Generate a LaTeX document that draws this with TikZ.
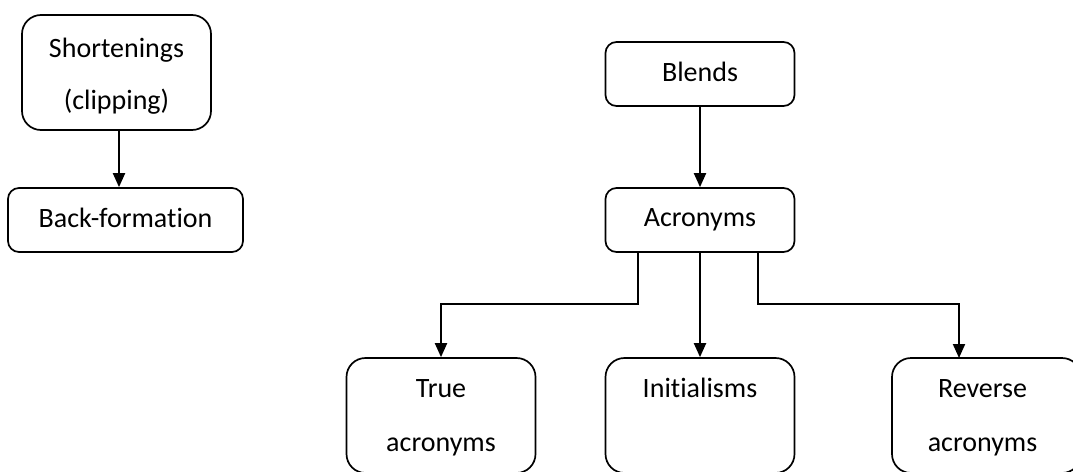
\documentclass[tikz,border=0pt]{standalone}
\usepackage{fontspec}
\setmainfont{Carlito}[Ligatures=NoCommon]
\usetikzlibrary{arrows.meta,calc}
\begin{document}
\begin{tikzpicture}[x=1pt,y=-1pt,
  tallbox/.style={draw,line width=1.7pt,rounded corners=19pt,minimum width=189pt,minimum height=115pt,inner sep=0pt},
  flatbox/.style={draw,line width=1.7pt,rounded corners=11pt,minimum height=64pt,inner sep=0pt},
  lbl/.style={anchor=base,inner sep=0pt,font=\fontsize{28}{34}\selectfont},
  conn/.style={line width=2pt,-{Triangle[length=14pt,width=12pt]}}]
\useasboundingbox (0,0) rectangle (1073,471);
\clip (0,0) rectangle (1073,471);
% boxes
\node[tallbox] (sh) at (116.5,72.5) {};
\node[flatbox,minimum width=235pt] (bf) at (125.5,220) {};
\node[flatbox,minimum width=189pt] (bl) at (700,74) {};
\node[flatbox,minimum width=189pt] (ac) at (700,220) {};
\node[tallbox] (tr) at (441,415.5) {};
\node[tallbox] (in) at (700,415.5) {};
\node[tallbox] (rv) at (986.5,415.5) {};
% texts
\node[lbl] (t1) at ($(sh.north)+(0,43)$) {Shortenings};
\node[lbl] (t2) at ($(sh.north)+(0,95)$) {(clipping)};
\node[lbl] (t3) at ($(bf.center)+(0,7)$) {Back-formation};
\node[lbl] (t4) at ($(bl.center)+(0,7)$) {Blends};
\node[lbl] (t5) at ($(ac.center)+(0,6)$) {Acronyms};
\node[lbl] (t6) at ($(tr.north)+(0,40)$) {True};
\node[lbl] (t7) at ($(tr.north)+(0,94)$) {acronyms};
\node[lbl] (t8) at ($(in.north)+(0,40)$) {Initialisms};
\node[lbl] (t9) at ($(rv.north)+(-4,40)$) {Reverse};
\node[lbl] (t10) at ($(rv.north)+(-4,94)$) {acronyms};
% connectors
\coordinate (shb) at (119,130);
\coordinate (acl) at (638,252);
\coordinate (acr) at (758,252);
\coordinate (rvt) at (959,358);
\draw[conn] (shb) -- (shb |- bf.north);
\draw[conn] (bl.south) -- (ac.north);
\draw[conn] (ac.south) -- (in.north);
\draw[conn] (acl) |- (441,304) -- (tr.north);
\draw[conn] (acr) |- (959,304) -- (rvt);
\end{tikzpicture}
\end{document}
